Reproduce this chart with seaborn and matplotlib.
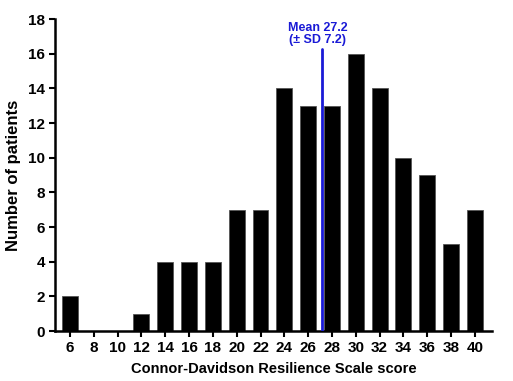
import numpy as np
import pandas as pd
import matplotlib
matplotlib.use("Agg")
import matplotlib.pyplot as plt
import seaborn as sns

# CD-RISC score bins and patient counts
scores = [6, 8, 10, 12, 14, 16, 18, 20, 22, 24, 26, 28, 30, 32, 34, 36, 38, 40]
counts = [2, 0, 0, 1, 4, 4, 4, 7, 7, 14, 13, 13, 16, 14, 10, 9, 5, 7]
mean_score = 27.2
sd_score = 7.2
line_top = 16.3

sns.set_style("ticks", {"text.color": "black", "axes.labelcolor": "black",
                        "xtick.color": "black", "ytick.color": "black",
                        "axes.edgecolor": "black"})
plt.rcParams['font.family'] = ['Liberation Sans', 'DejaVu Sans']
plt.rcParams['font.weight'] = 'bold'

df = pd.DataFrame({"score": scores, "count": counts})

fig = plt.figure(figsize=(5.13, 3.81), dpi=100)
ax = fig.add_axes([0.107, 0.131, 0.852, 0.819])

sns.barplot(data=df, x="score", y="count", native_scale=True, width=0.67,
            color="black", edgecolor="#555555", linewidth=0.6, saturation=1, ax=ax)

ax.plot([mean_score, mean_score], [0, line_top], color="#1a1ad6", linewidth=2, zorder=5)
ax.text(mean_score - 0.4, line_top + 0.15, f"Mean {mean_score}\n(± SD {sd_score})",
        color="#1a1ad6", ha="center", va="bottom", fontsize=9, fontweight="bold",
        linespacing=1.0)

ax.set_xlim(4.74, 41.43)
ax.set_ylim(0, 18)
ax.set_xticks(scores)
ax.set_xticklabels([str(s) for s in scores], fontsize=11, fontweight="bold")
ax.set_yticks(range(0, 19, 2))
ax.set_yticklabels([str(v) for v in range(0, 19, 2)], fontsize=11, fontweight="bold")
ax.set_xlabel("Connor-Davidson Resilience Scale score", fontsize=10.5, fontweight="bold", labelpad=5)
ax.set_ylabel("Number of patients", fontsize=12, fontweight="bold", labelpad=5)

for side in ["left", "bottom"]:
    ax.spines[side].set_linewidth(1.8)
sns.despine(ax=ax)
ax.tick_params(axis="both", direction="out", width=1.5, length=4, pad=3)

fig.savefig("out.png", dpi=100, facecolor="white")
